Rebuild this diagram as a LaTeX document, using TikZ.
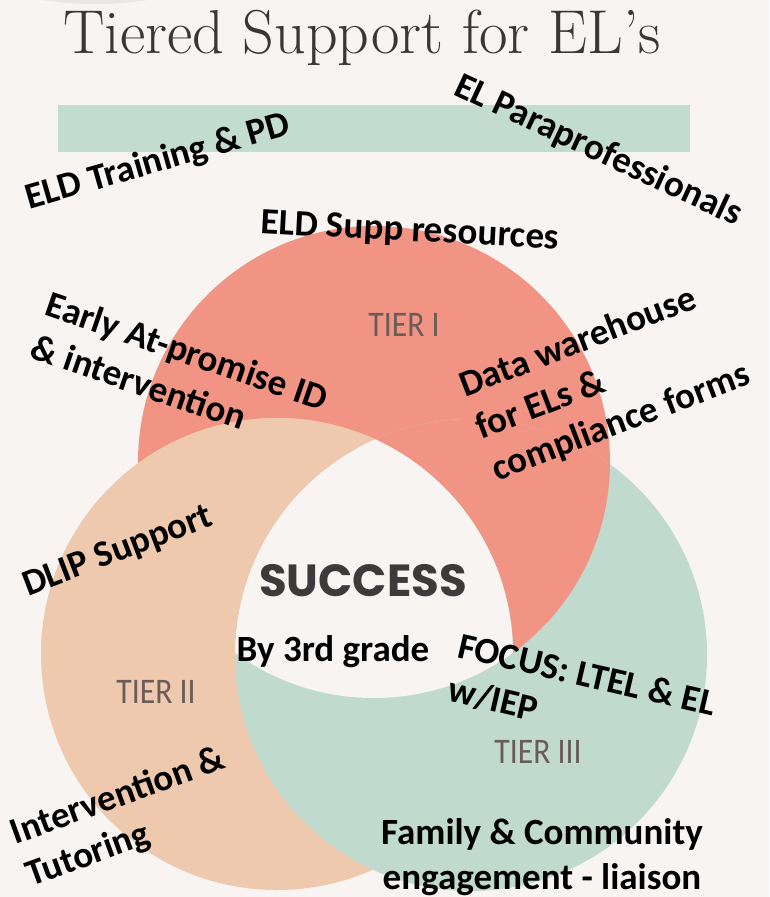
\documentclass[tikz,border=0pt]{standalone}
\usepackage{fontspec}
\newfontfamily\lab{Carlito}
\newfontfamily\pop{Poppins}
\definecolor{bg}{HTML}{F7F4F1}
\definecolor{salmon}{HTML}{F19483}
\definecolor{peach}{HTML}{EEC9AD}
\definecolor{tgreen}{HTML}{C0DACD}
\definecolor{band}{HTML}{C2DCD0}
\definecolor{corner}{HTML}{EAE6E3}
\definecolor{titlegrey}{HTML}{3A3633}
\definecolor{tiergrey}{HTML}{6A5C58}
\definecolor{succ}{HTML}{3C3A3B}
\tikzset{
  lbl/.style={inner sep=0pt, font=\lab\bfseries\fontsize{37}{45}\selectfont, text=black},
  tierlbl/.style={inner sep=0pt, font=\lab\fontsize{36}{40}\selectfont, text=tiergrey, xscale=0.88},
}
\begin{document}
\begin{tikzpicture}[x=1pt,y=-1pt]
\def\R{236pt}
\useasboundingbox (0,0) rectangle (769,897);
\fill[bg] (0,0) rectangle (769,897);
\fill[corner] (95,-336) circle[radius=340pt];
% title
\node[inner sep=0pt, anchor=base, font=\fontsize{62}{62}\selectfont, text=titlegrey] (title) at (362,53) {Tiered Support for EL’s};
% band
\fill[band] (58,105) rectangle (690,152);
% circles
\coordinate (S) at (374,462);
\coordinate (P) at (277,654);
\coordinate (G) at (471,655);
\fill[salmon] (S) circle[radius=\R];
\fill[peach] (P) circle[radius=\R];
\fill[tgreen] (G) circle[radius=\R];
\begin{scope}\clip (S) circle[radius=\R]; \fill[peach] (P) circle[radius=\R];\end{scope}
\begin{scope}\clip (G) circle[radius=\R]; \fill[salmon] (S) circle[radius=\R];\end{scope}
\begin{scope}\clip (P) circle[radius=\R]; \fill[tgreen] (G) circle[radius=\R];\end{scope}
\begin{scope}\clip (P) circle[radius=\R]; \clip (S) circle[radius=\R]; \fill[bg] (G) circle[radius=\R];\end{scope}
% tier labels
\node[tierlbl] (t1) at (404,325) {TIER I};
\node[tierlbl] (t2) at (156,692) {TIER II};
\node[tierlbl] (t3) at (538,752) {TIER III};
% success
\node[inner sep=0pt, font=\pop\bfseries\fontsize{45}{45}\selectfont, text=succ] (succ) at (363,581) {SUCCESS};
% labels
\node[lbl, rotate=16] (train) at (158,162) {ELD Training \& PD};
\node[lbl, rotate=-25] (para) at (598,151) {EL Paraprofessionals};
\node[lbl, rotate=-3] (supp) at (410,232) {ELD Supp resources};
\node[lbl, rotate=-19, align=left] (early) at (180,372) {Early At-promise ID\\\& intervention};
\node[lbl, rotate=21, align=left] (data) at (605,381) {Data warehouse\\for ELs \&\\compliance forms};
\node[lbl, rotate=21] (dlip) at (118,552) {DLIP Support};
\node[lbl] (grade) at (333,652) {By 3rd grade};
\node[lbl, rotate=-13, align=left] (focus) at (582,697) {FOCUS: LTEL \& EL\\w/IEP};
\node[lbl, rotate=20, align=left] (interv) at (126,818) {Intervention \&\\Tutoring};
\node[lbl, align=center] (family) at (542,857) {Family \& Community\\engagement - liaison};
\end{tikzpicture}
\end{document}
